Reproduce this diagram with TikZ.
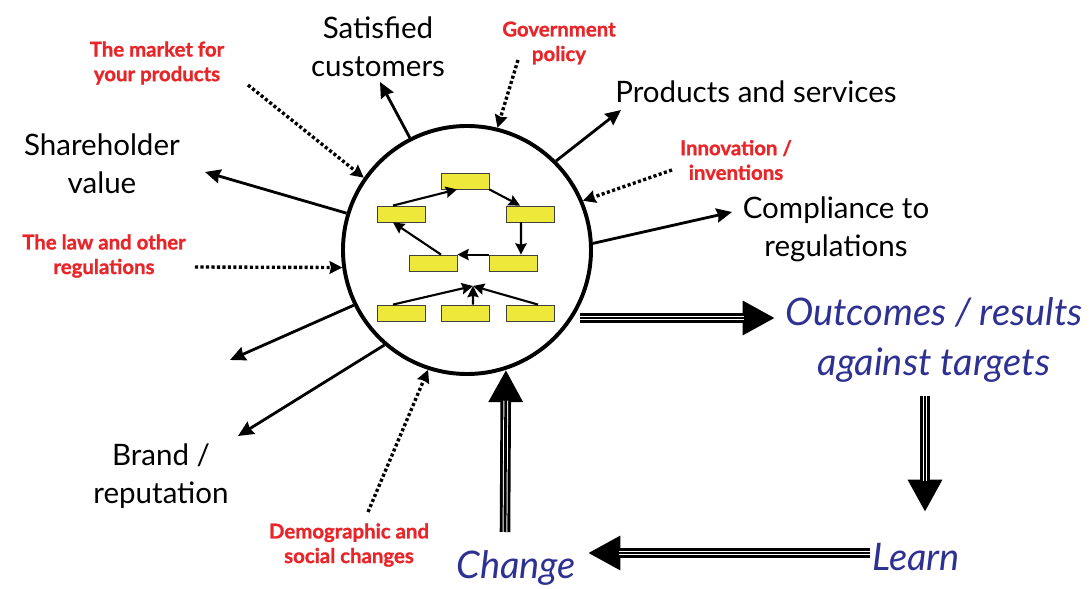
\documentclass[tikz,border=0pt]{standalone}
\usepackage{fontspec}
\setmainfont{Lato}
\newfontfamily\factorfont{Lato}[BoldFeatures={FakeBold=1.2}]
\usetikzlibrary{positioning,arrows.meta}
\definecolor{boxyellow}{RGB}{238,232,58}
\definecolor{factred}{RGB}{232,38,42}
\definecolor{loopblue}{RGB}{46,49,146}
\tikzset{
  proc/.style={draw=black!75, fill=boxyellow, line width=0.6pt, minimum width=1.2cm, minimum height=0.4cm, inner sep=0pt},
  result/.style={align=center, font=\fontsize{21}{27}\selectfont},
  factor/.style={align=center, text=factred, font=\factorfont\bfseries\fontsize{14.5}{17.5}\selectfont},
  stage/.style={align=center, text=loopblue, font=\itshape\fontsize{27}{35}\selectfont},
  outflow/.style={line width=2pt, -{Stealth[length=11pt,width=10pt,inset=1pt]}},
  inflow/.style={line width=2.4pt, dash pattern=on 2.2pt off 1.7pt, -{Stealth[length=9pt,width=9pt,inset=1pt]}},
  link/.style={line width=1.5pt, -{Stealth[length=8pt,width=8pt,inset=1pt]}},
  triple/.style={line width=7.5pt, -{Triangle[length=23pt,width=23pt]},
    postaction={draw=white, line width=3.4pt, arrows=-, shorten >=22pt},
    postaction={draw=black, line width=2pt, arrows=-, shorten >=21pt}}
}
\begin{document}
\begin{tikzpicture}[on grid]
\useasboundingbox (-11.675,-8.475) rectangle (15.575,6.25);

\node [circle, draw, line width=2.8pt, minimum size=6.2cm, inner sep=0pt] (c) at (0,0) {};

\node [proc, above left=1.725cm and 0.05cm of c] (top) {};
\node [proc, above left=0.9cm and 1.65cm of c] (lu) {};
\node [proc, above right=0.9cm and 1.575cm of c] (ru) {};
\node [proc, below left=0.325cm and 0.85cm of c] (ml) {};
\node [proc, below right=0.325cm and 1.15cm of c] (mr) {};
\node [proc, below=2.475cm of lu] (bl) {};
\node [proc, below=3.3cm of top] (bm) {};
\node [proc, below=2.475cm of ru] (br) {};
\coordinate [below right=0.9cm and 0.15cm of c] (j);

\draw [link] ([xshift=-0.2cm]lu.north) -- ([xshift=-0.2cm]top.south);
\draw [link] (top.south east) -- ([xshift=-0.25cm]ru.north);
\draw [link] ([xshift=-0.225cm]ru.south) -- ([xshift=0.2cm]mr.north);
\draw [link] (mr.north west) -- (ml.north east);
\draw [link] ([xshift=0.2cm]ml.north) -- ([xshift=-0.2cm]lu.south);
\draw [link] ([xshift=-0.2cm]bl.north) -- (j);
\draw [link] ([xshift=0.2cm]bm.north) -- (j);
\draw [link] ([xshift=0.2cm]br.north) -- (j);

\node [result, above left=5.075cm and 2.225cm of c] (sat) {Satisfied\\customers};
\node [result, above right=3.95cm and 7.225cm of c] (prod) {Products and services};
\node [result, above left=2.15cm and 9.125cm of c] (share) {Shareholder\\value};
\node [result, above right=0.525cm and 9.225cm of c] (comp) {Compliance to\\regulations};
\node [result, below left=5.65cm and 7.65cm of c] (brand) {Brand /\\reputation};

\node [factor, above right=5.175cm and 2.3cm of c] (gov) {Government\\policy};
\node [factor, above left=4.675cm and 7.75cm of c] (mkt) {The market for\\your products};
\node [factor, above right=2.25cm and 6.725cm of c] (innov) {Innovation /\\inventions};
\node [factor, below left=0.15cm and 9.075cm of c] (law) {The law and other\\regulations};
\node [factor, below left=7.375cm and 2.95cm of c] (demo) {Demographic and\\social changes};

\node [stage, below right=2.25cm and 11.675cm of c] (out) {Outcomes / results\\against targets};
\node [stage, below right=7.675cm and 11.225cm of c] (learn) {Learn};
\node [stage, below right=7.95cm and 1.225cm of c] (chg) {Change};

\coordinate (e1) at (-2.175,4.2);
\coordinate (e2) at (3.85,3.5);
\coordinate (e3) at (6.625,0.95);
\coordinate (e4) at (-6.55,1.95);
\coordinate (e5) at (-5.925,-2.75);
\coordinate (e6) at (-5.725,-4.65);
\draw [outflow] (c.117) -- (e1);
\draw [outflow] (c.45) -- (e2);
\draw [outflow] (c.3) -- (e3);
\draw [outflow] (c.163) -- (e4);
\draw [outflow] (c.206) -- (e5);
\draw [outflow] (c.229) -- (e6);

\coordinate (s1) at (-5.475,4.125);
\coordinate (s2) at (1.275,4.75);
\coordinate (s3) at (5.125,2.0);
\coordinate (s4) at (-6.8,-0.425);
\coordinate (s5) at (-2.475,-6.55);
\draw [inflow] (s1) -- (c.145);
\draw [inflow] (s2) -- (c.76);
\draw [inflow] (s3) -- (c.23);
\draw [inflow] (s4) -- (c.188);
\draw [inflow] (s5) -- (c.252);

\coordinate (t1) at (2.825,-1.7);
\coordinate (t2) at (7.7,-1.7);
\coordinate (t3) at (11.45,-3.65);
\coordinate (t4) at (11.45,-6.55);
\coordinate (t5) at (10.075,-7.575);
\coordinate (t6) at (3.025,-7.575);
\coordinate (t7) at (0.95,-7.05);
\draw [triple] (t1) -- (t2);
\draw [triple] (t3) -- (t4);
\draw [triple] (t5) -- (t6);
\draw [triple] (t7) -- (c.-72);

\end{tikzpicture}
\end{document}
